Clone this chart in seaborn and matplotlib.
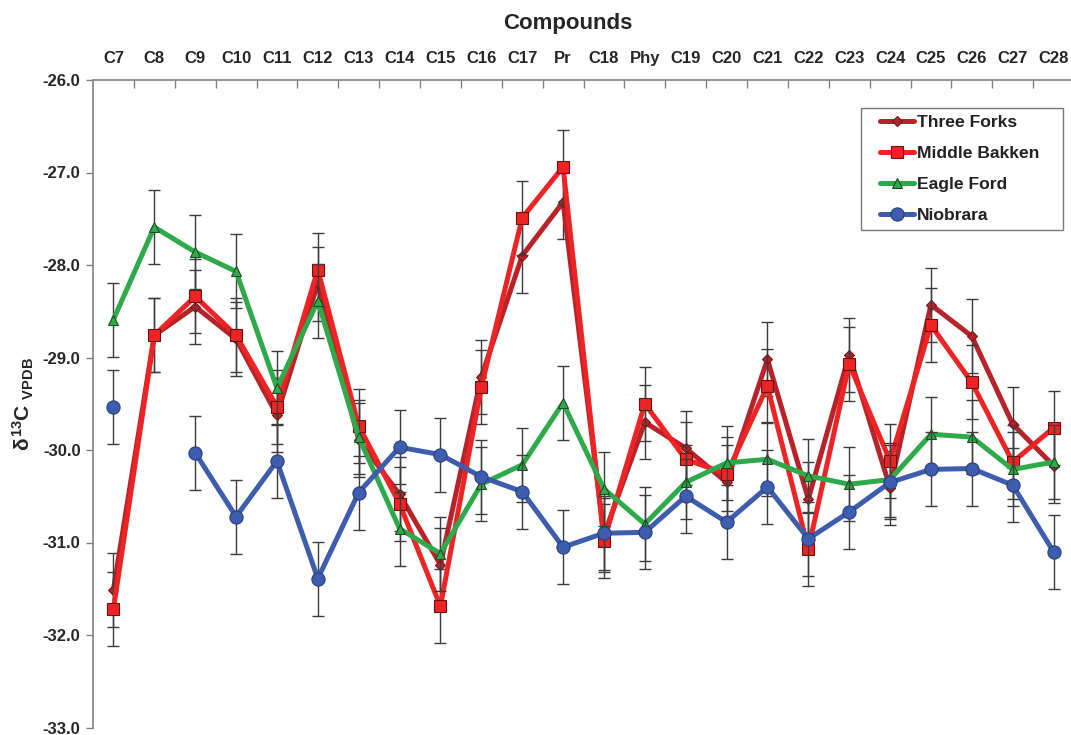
import numpy as np
import pandas as pd
import matplotlib
matplotlib.use("Agg")
import matplotlib.pyplot as plt
from matplotlib.patches import Rectangle
import seaborn as sns

# Compound-specific carbon isotope values (per mil, VPDB)
compounds = ["C7", "C8", "C9", "C10", "C11", "C12", "C13", "C14", "C15", "C16",
             "C17", "Pr", "C18", "Phy", "C19", "C20", "C21", "C22", "C23", "C24",
             "C25", "C26", "C27", "C28"]

three_forks = [-31.51, -28.76, -28.45, -28.80, -29.62, -28.20, -29.89, -30.48,
               -31.24, -29.21, -27.90, -27.32, -30.92, -29.70, -29.98, -30.35,
               -29.02, -30.53, -28.97, -30.41, -28.43, -28.77, -29.72, -30.17]

middle_bakken = [-31.72, -28.76, -28.34, -28.76, -29.53, -28.05, -29.74, -30.58,
                 -31.69, -29.32, -27.49, -26.94, -30.98, -29.50, -30.10, -30.26,
                 -29.31, -31.07, -29.07, -30.12, -28.65, -29.27, -30.13, -29.76]

eagle_ford = [-28.59, -27.59, -27.86, -28.07, -29.33, -28.39, -29.86, -30.85,
              -31.12, -30.37, -30.16, -29.49, -30.42, -30.80, -30.35, -30.14,
              -30.10, -30.28, -30.37, -30.32, -29.83, -29.86, -30.21, -30.13]

niobrara = [-29.54, np.nan, -30.03, -30.72, -30.12, -31.39, -30.46, -29.97,
            -30.05, -30.29, -30.45, -31.05, -30.90, -30.89, -30.50, -30.78,
            -30.40, -30.96, -30.67, -30.35, -30.21, -30.20, -30.38, -31.10]

# analytical uncertainty shown as +/- error bars
uncertainty = 0.4

series_names = ["Three Forks", "Middle Bakken", "Eagle Ford", "Niobrara"]
series_values = [three_forks, middle_bakken, eagle_ford, niobrara]

styles = {
    "Three Forks":   dict(color="#B8232A", marker="D", markersize=5.5, mec="#7a1418"),
    "Middle Bakken": dict(color="#EE2424", marker="s", markersize=8.5, mec="#6a1010"),
    "Eagle Ford":    dict(color="#2EAA4A", marker="^", markersize=6.5, mec="#1f4a25"),
    "Niobrara":      dict(color="#3E5DAE", marker="o", markersize=9.5, mec="#2a3f7a"),
}

sns.set_theme(style="white")
plt.rcParams["font.family"] = ["Liberation Sans", "DejaVu Sans"]
plt.rcParams["font.weight"] = "bold"
plt.rcParams["mathtext.fontset"] = "custom"
plt.rcParams["mathtext.rm"] = "Liberation Sans:bold"
plt.rcParams["mathtext.it"] = "Liberation Sans:bold"
plt.rcParams["mathtext.bf"] = "Liberation Sans:bold"
plt.rcParams["mathtext.sf"] = "Liberation Sans:bold"

W, H = 1071, 735
fig = plt.figure(figsize=(W / 100, H / 100), dpi=100)
ax = fig.add_axes([93 / W, 1 - 727.5 / H, 981 / W, 647.5 / H])

x = np.arange(len(compounds))

handles = []
for i, (name, vals) in enumerate(zip(series_names, series_values)):
    st = styles[name]
    v = np.array(vals, dtype=float)
    ax.errorbar(x, v, yerr=uncertainty, fmt="none", ecolor="#3c3c3c",
                elinewidth=1.0, capsize=4, capthick=1.0, zorder=2 + 2 * i)
    seg = np.cumsum(np.isnan(v))
    df = pd.DataFrame({"x": x, "v": v, "seg": seg}).dropna()
    n_before = len(ax.lines)
    sns.lineplot(data=df, x="x", y="v", units="seg", estimator=None,
                 color=st["color"], marker=st["marker"],
                 markersize=st["markersize"], markeredgecolor=st["mec"],
                 markerfacecolor=st["color"], markeredgewidth=0.8,
                 linewidth=3.6, ax=ax, legend=False, zorder=3 + 2 * i)
    handles.append(ax.lines[n_before])

ax.set_xlim(-0.5, 23.5)
ax.set_ylim(-33, -26)
ax.set_xlabel("")
ax.set_ylabel(r"$\delta^{13}$C $_{\rm VPDB}$", fontsize=15, fontweight="bold")
ax.yaxis.set_label_coords(-0.058, 0.5)

# category labels across the top
ax.xaxis.tick_top()
ax.set_xticks(x)
ax.set_xticklabels(compounds, fontsize=12, fontweight="bold")
ax.set_xticks(np.arange(0.5, 23.5, 1), minor=True)
ax.tick_params(axis="x", which="major", length=0, pad=10, top=True, bottom=False,
               labeltop=True, labelbottom=False)
ax.tick_params(axis="x", which="minor", length=6, width=1, direction="in",
               top=True, bottom=False, color="#808080")

ax.set_yticks(np.arange(-33, -25.5, 1))
ax.set_yticklabels([f"{t:.1f}" for t in np.arange(-33, -25.5, 1)],
                   fontsize=12, fontweight="bold")
ax.tick_params(axis="y", which="major", length=5, width=1, direction="out",
               left=True, color="#808080", pad=4)

for side in ("bottom", "right"):
    ax.spines[side].set_visible(False)
for side in ("top", "left"):
    ax.spines[side].set_color("#808080")
    ax.spines[side].set_linewidth(1.2)

fig.text(568 / W, 1 - 24 / H, "Compounds", ha="center", va="center",
         fontsize=16, fontweight="bold")

# legend box with wider side margins than top/bottom
ax.add_patch(Rectangle((861 / W, 1 - 230 / H), 202 / W, 122 / H,
                       transform=fig.transFigure, facecolor="white",
                       edgecolor="#777777", linewidth=1.0, zorder=20,
                       clip_on=False))
leg = ax.legend(handles, series_names, loc="upper left",
                bbox_to_anchor=(880 / W, 1 - 115 / H),
                bbox_transform=fig.transFigure, borderaxespad=0,
                frameon=False, fontsize=12.6, handlelength=1.95,
                handletextpad=0.15, labelspacing=0.9, borderpad=0)
leg.set_zorder(30)
for t in leg.get_texts():
    t.set_fontweight("bold")
    t.set_color("#222222")

fig.savefig("out.png", dpi=100)
